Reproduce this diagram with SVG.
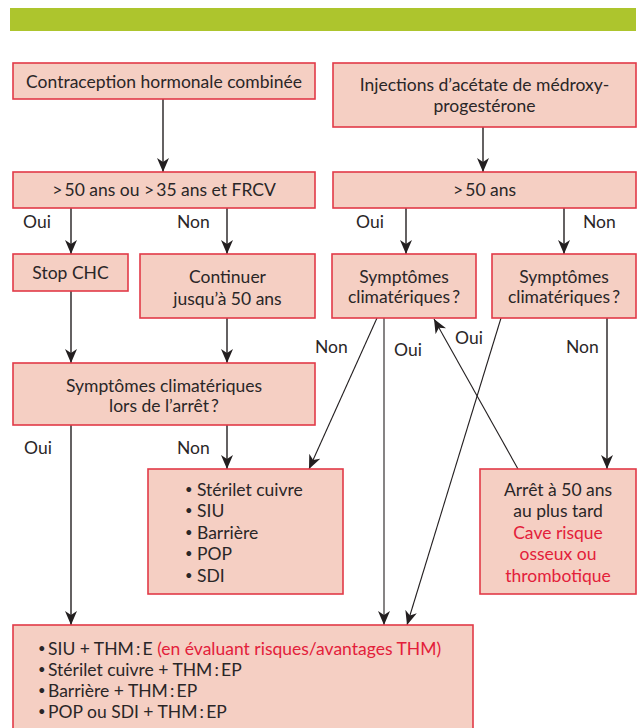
<svg xmlns="http://www.w3.org/2000/svg" width="641" height="728" viewBox="0 0 641 728">
<style>
.box{fill:#f5cfc3;stroke:#e23a48;stroke-width:1.6}
text{font-family:Lato,"Liberation Sans",sans-serif;font-size:17.5px;fill:#2a2627}
.c{text-anchor:middle}
.r{fill:#e3203a}
.b{font-size:13px}
.ln{stroke:#231f20;stroke-width:1.4;fill:none}
.d{stroke:#231f20;stroke-width:1.1;fill:none}
</style>
<defs>
<marker id="ah" viewBox="0 0 14 12" refX="14" refY="6" markerWidth="14" markerHeight="12" markerUnits="userSpaceOnUse" orient="auto">
<path d="M0,0 L14,6 L0,12 L4,6 z" fill="#231f20"/>
</marker>
</defs>
<rect x="10" y="8" width="626" height="23" fill="#adc52d"/>

<g id="connectors">
<line class="ln" x1="163" y1="99" x2="163" y2="172" marker-end="url(#ah)"/>
<line class="ln" x1="483" y1="127" x2="483" y2="172" marker-end="url(#ah)"/>
<line class="ln" x1="71" y1="208" x2="71" y2="254" marker-end="url(#ah)"/>
<line class="ln" x1="227" y1="208" x2="227" y2="254" marker-end="url(#ah)"/>
<line class="ln" x1="71" y1="291" x2="71" y2="363" marker-end="url(#ah)"/>
<line class="ln" x1="227" y1="318" x2="227" y2="363" marker-end="url(#ah)"/>
<line class="ln" x1="71" y1="425" x2="71" y2="625" marker-end="url(#ah)"/>
<line class="ln" x1="227" y1="425" x2="227" y2="469" marker-end="url(#ah)"/>
<line class="ln" x1="406" y1="208" x2="406" y2="254" marker-end="url(#ah)"/>
<line class="ln" x1="564" y1="208" x2="564" y2="254" marker-end="url(#ah)"/>
<line class="d" x1="377" y1="318" x2="309" y2="469" marker-end="url(#ah)"/>
<line class="d" x1="384" y1="318" x2="384" y2="625" marker-end="url(#ah)"/>
<line class="d" x1="518" y1="469" x2="434" y2="319" marker-end="url(#ah)"/>
<line class="d" x1="501" y1="318" x2="407" y2="625" marker-end="url(#ah)"/>
<line class="ln" x1="607" y1="318" x2="607" y2="469" marker-end="url(#ah)"/>
<text x="23" y="228">Oui</text>
<text x="177" y="228">Non</text>
<text x="356" y="228">Oui</text>
<text x="583" y="228">Non</text>
<text x="315" y="353">Non</text>
<text x="394" y="356">Oui</text>
<text x="455" y="344">Oui</text>
<text x="566" y="353">Non</text>
<text x="24" y="454">Oui</text>
<text x="177" y="454">Non</text>
</g>

<g id="chc">
<rect class="box" x="13" y="63" width="302" height="36"/>
<text class="c" x="164" y="88">Contraception hormonale combinée</text>
</g>
<g id="injections">
<rect class="box" x="333" y="63" width="303" height="64"/>
<text class="c" x="484.5" y="91">Injections d’acétate de médroxy-</text>
<text class="c" x="484.5" y="112">progestérone</text>
</g>
<g id="age-chc">
<rect class="box" x="13" y="172" width="302" height="36"/>
<text class="c" x="164" y="196">&gt;&#8201;50 ans ou &gt;&#8201;35 ans et FRCV</text>
</g>
<g id="age-inj">
<rect class="box" x="333" y="172" width="303" height="36"/>
<text class="c" x="484.5" y="196">&gt;&#8201;50 ans</text>
</g>
<g id="stop-chc">
<rect class="box" x="13" y="254" width="115" height="37"/>
<text class="c" x="70.5" y="279">Stop CHC</text>
</g>
<g id="continuer">
<rect class="box" x="140" y="254" width="175" height="64"/>
<text class="c" x="227.5" y="283">Continuer</text>
<text class="c" x="227.5" y="305">jusqu’à 50 ans</text>
</g>
<g id="symptomes-1">
<rect class="box" x="332" y="254" width="144" height="64"/>
<text class="c" x="404" y="283">Symptômes</text>
<text class="c" x="404" y="303">climatériques&#8201;?</text>
</g>
<g id="symptomes-2">
<rect class="box" x="492" y="254" width="144" height="64"/>
<text class="c" x="564" y="283">Symptômes</text>
<text class="c" x="564" y="303">climatériques&#8201;?</text>
</g>
<g id="symptomes-arret">
<rect class="box" x="13" y="363" width="302" height="62"/>
<text class="c" x="164" y="392">Symptômes climatériques</text>
<text class="c" x="164" y="412">lors de l’arrêt&#8201;?</text>
</g>
<g id="alternatives">
<rect class="box" x="148" y="469" width="195" height="125"/>
<text class="b" x="185" y="494">•</text><text x="197" y="496">Stérilet cuivre</text>
<text class="b" x="185" y="515">•</text><text x="197" y="517">SIU</text>
<text class="b" x="185" y="537">•</text><text x="197" y="539">Barrière</text>
<text class="b" x="185" y="558">•</text><text x="197" y="560">POP</text>
<text class="b" x="185" y="580">•</text><text x="197" y="582">SDI</text>
</g>
<g id="arret">
<rect class="box" x="480" y="469" width="156" height="125"/>
<text class="c" x="558" y="496">Arrêt à 50 ans</text>
<text class="c" x="558" y="517">au plus tard</text>
<text class="c r" x="558" y="539">Cave risque</text>
<text class="c r" x="558" y="560">osseux ou</text>
<text class="c r" x="558" y="582">thrombotique</text>
</g>
<g id="thm">
<rect class="box" x="13" y="625" width="460" height="120"/>
<text class="b" x="38" y="653">•</text><text x="48" y="655">SIU + THM&#8201;:&#8201;E <tspan class="r">(en évaluant risques/avantages THM)</tspan></text>
<text class="b" x="38" y="674">•</text><text x="48" y="676">Stérilet cuivre + THM&#8201;:&#8201;EP</text>
<text class="b" x="38" y="695">•</text><text x="48" y="697">Barrière + THM&#8201;:&#8201;EP</text>
<text class="b" x="38" y="716">•</text><text x="48" y="718">POP ou SDI + THM&#8201;:&#8201;EP</text>
</g>
</svg>
